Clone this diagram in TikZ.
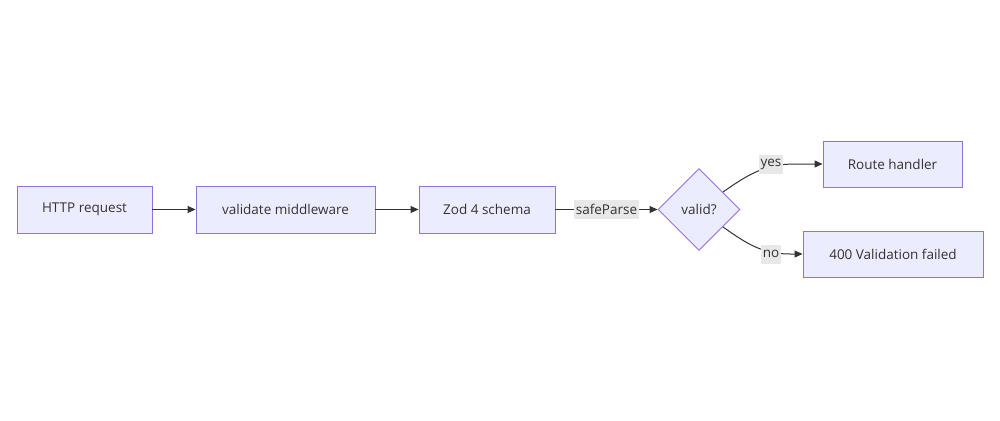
\documentclass[tikz,border=0pt]{standalone}
\usepackage{fontspec}
\setmainfont{Open Sans}
\usetikzlibrary{shapes.geometric,arrows.meta}
\definecolor{nodefill}{HTML}{ECECFF}
\definecolor{nodeborder}{HTML}{9370DB}
\definecolor{linec}{HTML}{333333}
\definecolor{lblbg}{HTML}{E8E8E8}
\tikzset{
  box/.style={draw=nodeborder, fill=nodefill, line width=0.9pt, text=linec, inner sep=0pt, font=\fontsize{13.5}{16}\selectfont},
  dia/.style={diamond, draw=nodeborder, fill=nodefill, line width=0.9pt, text=linec, inner sep=0pt, minimum width=82pt, minimum height=82pt, font=\fontsize{13.5}{16}\selectfont},
  edge/.style={draw=linec, line width=1pt, -{Triangle[length=8pt,width=7pt]}},
  lbl/.style={fill=lblbg, text=linec, inner sep=1.5pt, minimum height=19pt, font=\fontsize{13.5}{16}\selectfont}
}
\begin{document}
\begin{tikzpicture}[x=1pt,y=-1pt]
\useasboundingbox (0,0) rectangle (1000,420);
\node[box, minimum width=135pt, minimum height=47pt] (http) at (84.5,209.5) {HTTP request};
\node[box, minimum width=179pt, minimum height=47pt] (mw) at (285.5,209.5) {validate middleware};
\node[box, minimum width=136pt, minimum height=47pt] (zod) at (487,209.5) {Zod 4 schema};
\node[dia] (d) at (699,209.5) {valid?};
\node[box, minimum width=139pt, minimum height=46pt] (rh) at (892.5,164) {Route handler};
\node[box, minimum width=180pt, minimum height=46pt] (fail) at (893,254) {400 Validation failed};
\draw[edge] (http) -- (mw);
\draw[edge] (mw) -- (zod);
\draw[edge] (zod) -- (d) node[lbl, midway] (sp) {safeParse};
\coordinate (ds1) at (723,192);
\coordinate (ds2) at (723,227);
\coordinate (ye) at (795,164);
\coordinate (ne) at (790,254);
\draw[edge] (ds1) to[out=35,in=180] (ye) -- (rh);
\draw[edge] (ds2) to[out=-35,in=180] (ne) -- (fail);
\node[lbl] (yes) at (771,164) {yes};
\node[lbl] (no) at (771,254) {no};
\end{tikzpicture}
\end{document}
